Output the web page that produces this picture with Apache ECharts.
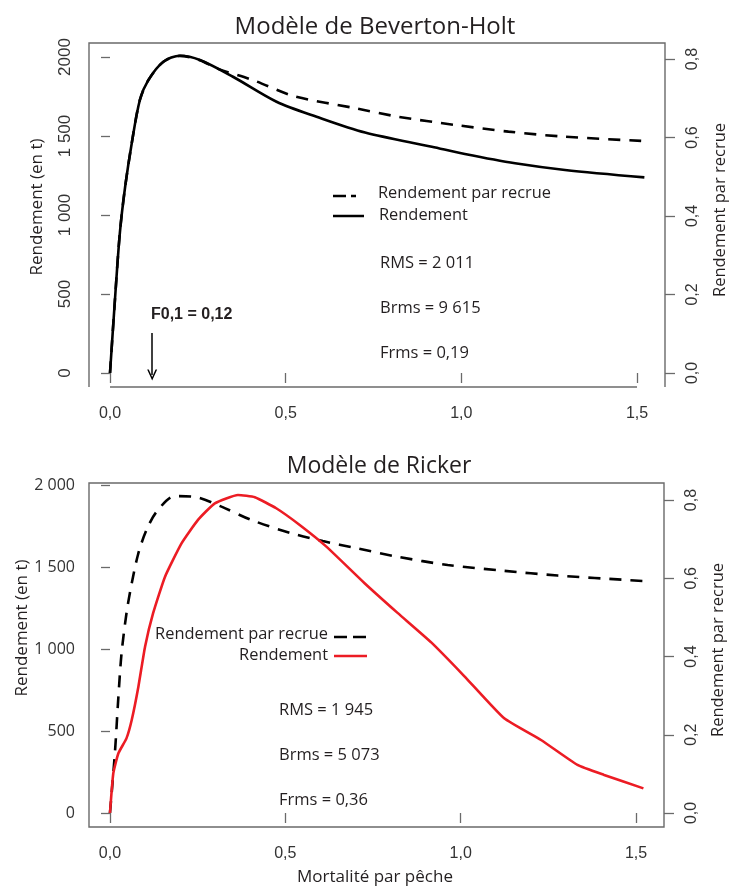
<!DOCTYPE html>
<html><head><meta charset="utf-8">
<script src="https://cdn.jsdelivr.net/npm/echarts@6/dist/echarts.min.js"></script>
<style>html,body{margin:0;padding:0;background:#fff}#c{width:730px;height:886px}</style>
</head><body><div id="c"></div>
<script>
// ---------- data ----------
const xTicks = [0, 0.5, 1, 1.5];
const xTickLabels = ['0,0', '0,5', '1,0', '1,5'];
const leftTicks = [0, 500, 1000, 1500, 2000];
const bhLeftLabels = ['0', '500', '1 000', '1 500', '2000'];
const rkLeftLabels = ['0', '500', '1 000', '1 500', '2 000'];
const rightTicks = [0, 0.2, 0.4, 0.6, 0.8];
const rightLabels = ['0,0', '0,2', '0,4', '0,6', '0,8'];

// Beverton-Holt
const bhYieldF = [0, 0.014, 0.028, 0.043, 0.062, 0.085, 0.109, 0.152, 0.199, 0.256, 0.35, 0.474, 0.588, 0.726, 0.916, 1.01, 1.153, 1.295, 1.521];
const bhYield  = [0, 462, 886, 1177, 1456, 1728, 1854, 1970, 2008, 1981, 1875, 1717, 1622, 1522, 1432, 1386, 1327, 1285, 1238];
const bhYprF   = [0, 0.014, 0.028, 0.043, 0.062, 0.085, 0.109, 0.152, 0.199, 0.256, 0.304, 0.408, 0.522, 0.702, 0.82, 0.982, 1.134, 1.295, 1.521];
const bhYpr    = [0, 0.186, 0.357, 0.474, 0.586, 0.696, 0.746, 0.793, 0.808, 0.797, 0.776, 0.746, 0.706, 0.674, 0.653, 0.632, 0.615, 0.602, 0.591];
const F01 = 0.12;

// Ricker
const rkYprF = [0, 0.014, 0.024, 0.033, 0.047, 0.062, 0.081, 0.104, 0.133, 0.185, 0.242, 0.318, 0.403, 0.517, 0.607, 0.702, 0.82, 0.963, 1.124, 1.276, 1.521];
const rkYpr  = [0, 0.153, 0.297, 0.408, 0.51, 0.587, 0.664, 0.723, 0.77, 0.81, 0.808, 0.783, 0.749, 0.715, 0.695, 0.677, 0.655, 0.634, 0.619, 0.607, 0.593];
const rkYieldF = [0, 0.0095, 0.024, 0.047, 0.062, 0.081, 0.1, 0.123, 0.157, 0.204, 0.251, 0.299, 0.365, 0.413, 0.474, 0.541, 0.617, 0.726, 0.82, 0.916, 1.01, 1.124, 1.229, 1.333, 1.409, 1.521];
const rkYield  = [0, 242, 364, 455, 567, 770, 1014, 1218, 1441, 1644, 1787, 1888, 1939, 1925, 1858, 1756, 1624, 1401, 1220, 1040, 835, 577, 445, 293, 232, 150];

const texts = {
  bhTitle: 'Modèle de Beverton-Holt',
  rkTitle: 'Modèle de Ricker',
  yLeft: 'Rendement (en t)',
  yRight: 'Rendement par recrue',
  xName: 'Mortalité par pêche',
  legYpr: 'Rendement par recrue',
  legYield: 'Rendement',
  bhStats: ['RMS = 2 011', 'Brms = 9 615', 'Frms = 0,19'],
  rkStats: ['RMS = 1 945', 'Brms = 5 073', 'Frms = 0,36'],
  f01: 'F0,1 = 0,12'
};

// ---------- chart ----------
const pair = (xs, ys) => xs.map((x, i) => [x, ys[i]]);
const FRAME = '#6a6a6a';
const TXT = '#231f20';
const TICKTXT = '#333';
const MY = '"Open Sans", "Noto Sans", sans-serif';
const RF = '"Liberation Sans", Arial, sans-serif';
const labelFrom = (ticks, labels) => v => { const i = ticks.findIndex(t => Math.abs(t - v) < 1e-9); return i >= 0 ? labels[i] : ''; };

function xAxis(gi) {
  return {
    type: 'value', gridIndex: gi, min: -0.0598, max: 1.5797,
    axisLine: { show: false }, splitLine: { show: false },
    axisTick: { show: true, customValues: xTicks, length: 10, lineStyle: { color: FRAME, width: 1.3 } },
    axisLabel: { customValues: xTicks, formatter: labelFrom(xTicks, xTickLabels), margin: 19, color: TICKTXT, fontFamily: RF, fontSize: 16 }
  };
}
function yAxis(gi, pos, min, max, ticks, labels, rotate, margin, font, size) {
  return {
    type: 'value', gridIndex: gi, position: pos, min: min, max: max,
    axisLine: { show: false }, splitLine: { show: false },
    axisTick: { show: true, customValues: ticks, length: pos === 'left' ? 9 : 10, lineStyle: { color: FRAME, width: 1.3 } },
    axisLabel: { customValues: ticks, formatter: labelFrom(ticks, labels), rotate: rotate, margin: margin, color: TICKTXT, fontFamily: font, fontSize: size }
  };
}

const chart = echarts.init(document.getElementById('c'), null, { renderer: 'canvas' });

function t(x, y, text, o) {
  o = o || {};
  return {
    type: 'text', x: x, y: y, rotation: o.rot || 0, silent: true,
    style: { text: text, x: 0, y: 0, fill: o.color || TXT, font: (o.weight || 'normal') + ' ' + (o.size || 16) + 'px ' + (o.family || MY), align: o.align || 'left', verticalAlign: 'middle' }
  };
}
function ln(x1, y1, x2, y2, o) {
  o = o || {};
  return { type: 'line', silent: true, shape: { x1: x1, y1: y1, x2: x2, y2: y2 }, style: { stroke: o.color || '#000', lineWidth: o.w || 2.5, lineDash: o.dash || null } };
}

const graphics = [
  // frames
  { type: 'polyline', silent: true, shape: { points: [[89, 387], [89, 43], [665, 43], [665, 387]] }, style: { stroke: FRAME, lineWidth: 1.4, fill: null } },
  ln(110, 387, 637, 387, { color: FRAME, w: 1.3 }),
  { type: 'rect', silent: true, shape: { x: 89, y: 483, width: 575, height: 344 }, style: { stroke: FRAME, lineWidth: 1.4, fill: null } },
  // titles
  t(375, 27, texts.bhTitle, { size: 24, align: 'center' }),
  t(379, 466, texts.rkTitle, { size: 23, align: 'center' }),
  // axis names
  t(37, 207, texts.yLeft, { size: 17, align: 'center', rot: Math.PI / 2 }),
  t(22, 628, texts.yLeft, { size: 17, align: 'center', rot: Math.PI / 2 }),
  t(720, 210, texts.yRight, { size: 16.5, align: 'center', rot: Math.PI / 2 }),
  t(718, 650, texts.yRight, { size: 16.5, align: 'center', rot: Math.PI / 2 }),
  t(375, 877, texts.xName, { size: 17, align: 'center' }),
  // top legend
  ln(333, 196, 356, 196, { dash: [13, 5] }),
  ln(333, 216, 364, 216),
  t(378, 193, texts.legYpr, { size: 16.4 }),
  t(379, 215, texts.legYield, { size: 16.4 }),
  t(380, 263, texts.bhStats[0], { size: 16.5 }),
  t(380, 308, texts.bhStats[1], { size: 16.5 }),
  t(380, 353, texts.bhStats[2], { size: 16.5 }),
  t(151, 315, texts.f01, { size: 16, weight: 'bold', family: RF }),
  // bottom legend
  t(328, 634, texts.legYpr, { size: 16.4, align: 'right' }),
  t(328, 655, texts.legYield, { size: 16.4, align: 'right' }),
  ln(334, 637, 367, 637, { dash: [13, 6] }),
  ln(334, 656, 367, 656, { color: '#ec1c24' }),
  t(279, 710, texts.rkStats[0], { size: 16.5 }),
  t(279, 755, texts.rkStats[1], { size: 16.5 }),
  t(279, 800, texts.rkStats[2], { size: 16.5 })
];

const option = {
  animation: false,
  backgroundColor: '#fff',
  grid: [
    { left: 89, top: 43, width: 576, height: 344 },
    { left: 89, top: 483, width: 575, height: 344 }
  ],
  xAxis: [xAxis(0), xAxis(1)],
  yAxis: [
    yAxis(0, 'left', -88.6, 2088.6, leftTicks, bhLeftLabels, 90, 15, RF, 17),
    yAxis(0, 'right', -0.0357, 0.8408, rightTicks, rightLabels, 90, 20, RF, 16),
    yAxis(1, 'left', -85.4, 2012, leftTicks, rkLeftLabels, 0, 14, MY, 16),
    yAxis(1, 'right', -0.0358, 0.8435, rightTicks, rightLabels, 90, 20, RF, 16)
  ],
  series: [
    { name: 'bhYpr', type: 'line', xAxisIndex: 0, yAxisIndex: 1, data: pair(bhYprF, bhYpr), showSymbol: false, smooth: 0.3,
      lineStyle: { color: '#000', width: 2.6, type: [12, 9] } },
    { name: 'bhYield', type: 'line', xAxisIndex: 0, yAxisIndex: 0, data: pair(bhYieldF, bhYield), showSymbol: false, smooth: 0.3,
      lineStyle: { color: '#000', width: 2.6 },
      markLine: { silent: true, symbol: ['none', 'path://M5,0 L10,10 L8.4,10 L5,3.2 L1.6,10 L0,10 Z'], symbolSize: [10, 11],
        lineStyle: { color: '#000', width: 1.5, type: 'solid' }, label: { show: false },
        data: [[{ coord: [F01, 253] }, { coord: [F01, -12] }]] } },
    { name: 'rkYpr', type: 'line', xAxisIndex: 1, yAxisIndex: 3, data: pair(rkYprF, rkYpr), showSymbol: false, smooth: 0.3,
      lineStyle: { color: '#000', width: 2.6, type: [12, 9] } },
    { name: 'rkYield', type: 'line', xAxisIndex: 1, yAxisIndex: 2, data: pair(rkYieldF, rkYield), showSymbol: false, smooth: 0.15,
      lineStyle: { color: '#ec1c24', width: 2.6 } }
  ],
  graphic: graphics
};
chart.setOption(option);
</script>
</body></html>
